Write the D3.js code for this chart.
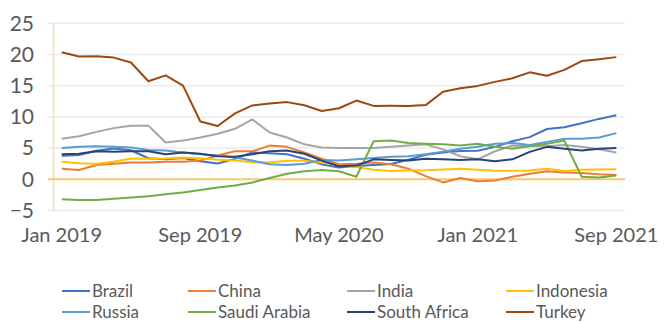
<!DOCTYPE html>
<html><head><meta charset="utf-8">
<script src="https://cdn.jsdelivr.net/npm/d3@7"></script>
<style>
html,body{margin:0;padding:0;background:#fff;}
svg{display:block;font-family:Lato,"Open Sans",sans-serif;}
</style></head>
<body><svg id="c" width="666" height="322"></svg>
<script>
const months = ["Jan 2019","Feb 2019","Mar 2019","Apr 2019","May 2019","Jun 2019","Jul 2019","Aug 2019","Sep 2019","Oct 2019","Nov 2019","Dec 2019",
"Jan 2020","Feb 2020","Mar 2020","Apr 2020","May 2020","Jun 2020","Jul 2020","Aug 2020","Sep 2020","Oct 2020","Nov 2020","Dec 2020",
"Jan 2021","Feb 2021","Mar 2021","Apr 2021","May 2021","Jun 2021","Jul 2021","Aug 2021","Sep 2021"];
const xTickLabels = ["Jan 2019","Sep 2019","May 2020","Jan 2021","Sep 2021"];
const yTicks = [-5,0,5,10,15,20,25];

const brazil = [3.78,3.89,4.58,4.94,4.66,3.37,3.22,3.43,2.89,2.54,3.27,4.31,4.19,4.01,3.30,2.40,1.88,2.13,2.31,2.44,3.14,3.92,4.31,4.52,4.56,5.20,6.10,6.76,8.06,8.35,8.99,9.68,10.25];
const china = [1.7,1.5,2.3,2.5,2.7,2.7,2.8,2.8,3.0,3.8,4.5,4.5,5.4,5.2,4.3,3.3,2.4,2.5,2.7,2.4,1.7,0.5,-0.5,0.2,-0.3,-0.2,0.4,0.9,1.3,1.1,1.0,0.8,0.7];
const india = [6.5,6.9,7.6,8.2,8.6,8.6,5.9,6.2,6.7,7.3,8.1,9.6,7.5,6.7,5.6,5.1,5.0,5.0,5.0,5.2,5.4,5.6,4.8,3.7,3.2,4.5,5.4,5.3,5.3,5.5,5.2,4.8,4.3];
const indonesia = [2.82,2.57,2.48,2.83,3.32,3.28,3.32,3.49,3.39,3.13,3.00,2.72,2.68,2.98,2.96,2.67,2.19,1.96,1.54,1.32,1.42,1.44,1.59,1.68,1.55,1.38,1.37,1.42,1.68,1.33,1.52,1.59,1.60];
const russia = [5.0,5.2,5.3,5.2,5.1,4.7,4.6,4.3,4.0,3.8,3.5,3.0,2.4,2.3,2.5,3.1,3.0,3.2,3.4,3.6,3.7,4.0,4.4,4.9,5.2,5.7,5.8,5.5,6.0,6.5,6.5,6.7,7.4];
const saudiArabia = [-3.2,-3.3,-3.3,-3.1,-2.9,-2.7,-2.4,-2.1,-1.7,-1.3,-1.0,-0.5,0.2,0.9,1.3,1.5,1.3,0.4,6.1,6.2,5.8,5.7,5.6,5.4,5.7,5.2,4.9,5.3,5.7,6.2,0.4,0.3,0.6];
const southAfrica = [4.0,4.1,4.5,4.4,4.5,4.5,4.0,4.3,4.1,3.7,3.6,4.0,4.5,4.6,4.1,3.0,2.1,2.2,3.2,3.1,3.0,3.3,3.2,3.1,3.2,2.9,3.2,4.4,5.2,4.9,4.6,4.9,5.0];
const turkey = [20.35,19.67,19.71,19.50,18.71,15.72,16.65,15.01,9.26,8.55,10.56,11.84,12.15,12.37,11.86,10.94,11.39,12.62,11.76,11.77,11.75,11.89,14.03,14.60,14.97,15.61,16.19,17.14,16.59,17.53,18.95,19.25,19.58];

const seriesNames = ["Brazil","China","India","Indonesia","Russia","Saudi Arabia","South Africa","Turkey"];
const seriesValues = [brazil,china,india,indonesia,russia,saudiArabia,southAfrica,turkey];
const colors = ["#4472C4","#ED7D31","#A5A5A5","#FFC000","#5B9BD5","#70AD47","#264478","#9E480E"];

const svg = d3.select("#c");
const x = d3.scaleBand().domain(months).range([53,625]).padding(0);
const y = d3.scaleLinear().domain([-5,25]).range([210.5,23.3]);
const cx = m => x(m) + x.bandwidth()/2;

// gridlines
svg.append("g").selectAll("line").data(yTicks.filter(t=>t!==0)).join("line")
  .attr("x1",48).attr("x2",625).attr("y1",d=>y(d)).attr("y2",d=>y(d))
  .attr("stroke","#ebebeb").attr("stroke-width",1.5);

// y axis
const yAxis = svg.append("g").attr("transform","translate(53,0)")
  .call(d3.axisLeft(y).tickValues(yTicks).tickSize(0).tickPadding(19));
yAxis.select(".domain").attr("stroke","#f3e4a2").attr("stroke-width",1.5);
yAxis.selectAll("text").attr("fill","#595959").attr("font-size",21).attr("font-family","Lato");

// zero line
svg.append("line").attr("x1",48).attr("x2",625).attr("y1",y(0)).attr("y2",y(0))
  .attr("stroke","#F8C870").attr("stroke-width",2);

// x axis labels
const xAxis = svg.append("g").attr("transform","translate(0,228)")
  .call(d3.axisBottom(x).tickValues(xTickLabels).tickSize(0).tickPadding(0));
xAxis.select(".domain").remove();
xAxis.selectAll("text").attr("fill","#595959").attr("font-size",20).attr("font-family","Lato")
  .attr("dy","0.71em");

// lines
const line = d3.line().x((d,i)=>cx(months[i])).y(d=>y(d));
svg.append("g").selectAll("path").data(seriesValues).join("path")
  .attr("d",d=>line(d)).attr("fill","none")
  .attr("stroke",(d,i)=>colors[i]).attr("stroke-width",2).attr("stroke-linejoin","round");

// legend
const legCols = [62,188,347,506];
const legRows = [291,312];
const lg = svg.append("g").selectAll("g").data(seriesNames).join("g")
  .attr("transform",(d,i)=>`translate(${legCols[i%4]},${legRows[Math.floor(i/4)]})`);
lg.append("line").attr("x1",0).attr("x2",28).attr("y1",0).attr("y2",0)
  .attr("stroke",(d,i)=>colors[i]).attr("stroke-width",2);
lg.append("text").attr("x",30).attr("y",0).attr("dy","0.35em")
  .attr("font-size",17).attr("fill","#595959").attr("font-family","Lato").text(d=>d);
</script></body></html>
